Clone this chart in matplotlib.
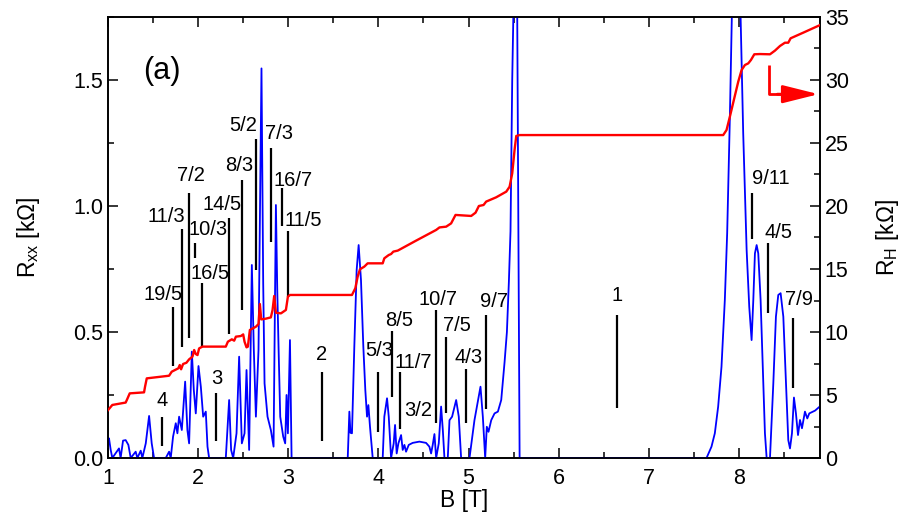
import matplotlib
matplotlib.use('Agg')
import matplotlib.pyplot as plt
from matplotlib.ticker import MultipleLocator

plt.rcParams['font.family'] = ['Liberation Sans', 'DejaVu Sans']
plt.rcParams['mathtext.fontset'] = 'custom'
plt.rcParams['mathtext.rm'] = 'Liberation Sans'

# Rxx (blue)
b_xx = [1.00, 1.011, 1.03, 1.048, 1.122, 1.14, 1.167, 1.196, 1.226, 1.252, 1.307, 1.326,
        1.363, 1.381, 1.419, 1.456, 1.485, 1.511, 1.641, 1.678, 1.696, 1.722, 1.752, 1.770,
        1.789, 1.819, 1.856, 1.881, 1.90, 1.93, 1.952, 1.974, 2.004, 2.03, 2.056, 2.085,
        2.104, 2.122, 2.20, 2.307, 2.344, 2.366, 2.389, 2.426, 2.455, 2.485, 2.515, 2.537,
        2.566, 2.596, 2.618, 2.641, 2.67, 2.703, 2.722, 2.737, 2.77, 2.807, 2.837, 2.863,
        2.878, 2.893, 2.911, 2.944, 2.966, 2.981, 2.996, 3.019, 3.037, 3.40, 3.66, 3.678,
        3.69, 3.707, 3.733, 3.759, 3.781, 3.807, 3.833, 3.855, 3.874, 3.889, 3.907, 3.937,
        4.048, 4.066, 4.096, 4.115, 4.141, 4.170, 4.185, 4.203, 4.222, 4.252, 4.270, 4.289,
        4.307, 4.337, 4.381, 4.455, 4.529, 4.566, 4.585, 4.603, 4.622, 4.641, 4.670, 4.696,
        4.715, 4.733, 4.770, 4.789, 4.818, 4.863, 4.892, 4.918, 5.011, 5.066, 5.133, 5.159,
        5.185, 5.203, 5.222, 5.252, 5.289, 5.326, 5.363, 5.40, 5.426, 5.448, 5.466, 5.485,
        5.50, 5.52, 5.54, 5.555, 5.567, 6.5, 7.456, 7.641, 7.696, 7.733, 7.77, 7.807, 7.844,
        7.87, 7.90, 7.922, 7.95, 7.99, 8.019, 8.048, 8.086, 8.115, 8.141, 8.16, 8.178, 8.197,
        8.215, 8.241, 8.271, 8.289, 8.308, 8.345, 8.382, 8.411, 8.437, 8.463, 8.493, 8.523,
        8.548, 8.567, 8.589, 8.611, 8.633, 8.656, 8.678, 8.70, 8.733, 8.759, 8.781, 8.845,
        8.90]
r_xx = [0.07, 0.078, 0.032, 0.0, 0.038, 0.0, 0.069, 0.071, 0.052, 0.0, 0.025, 0.0,
        0.029, 0.0, 0.058, 0.167, 0.058, 0.0, 0.0, 0.025, 0.0, 0.085, 0.138, 0.098,
        0.164, 0.111, 0.303, 0.111, 0.058, 0.422, 0.270, 0.177, 0.365, 0.283, 0.164, 0.184,
        0.045, 0.0, 0.0, 0.0, 0.230, 0.032, 0.0, 0.098, 0.402, 0.058, 0.098, 0.349,
        0.032, 0.766, 0.429, 0.164, 0.429, 1.546, 0.693, 0.296, 0.164, 0.111, 0.045, 1.004,
        0.667, 0.429, 0.164, 0.085, 0.058, 0.250, 0.098, 0.468, 0.0, 0.0, 0.0, 0.184,
        0.10, 0.098, 0.442, 0.746, 0.845, 0.706, 0.442, 0.270, 0.164, 0.210, 0.124, 0.0,
        0.0, 0.164, 0.237, 0.164, 0.0, 0.058, 0.131, 0.018, 0.058, 0.091, 0.032, 0.052,
        0.025, 0.052, 0.060, 0.065, 0.060, 0.045, 0.018, 0.052, 0.095, 0.0, 0.058, 0.204,
        0.111, 0.0, 0.0, 0.150, 0.164, 0.230, 0.164, 0.0, 0.0, 0.150, 0.283, 0.164,
        0.0, 0.124, 0.104, 0.150, 0.177, 0.184, 0.230, 0.38, 0.50, 0.70, 0.90, 1.50,
        1.80, 2.30, 1.80, 0.80, 0.0, 0.0, 0.0, 0.0, 0.045, 0.098, 0.204, 0.362, 0.627,
        0.892, 1.354, 1.751, 2.30, 2.30, 1.751, 1.288, 0.825, 0.60, 0.468, 0.627, 0.812, 0.845,
        0.812, 0.627, 0.296, 0.098, 0.0, 0.0, 0.296, 0.561, 0.647, 0.654, 0.561, 0.296,
        0.071, 0.038, 0.098, 0.240, 0.177, 0.091, 0.151, 0.118, 0.184, 0.157, 0.177, 0.188,
        0.205]

# RH (red)
b_h = [1.00, 1.048, 1.196, 1.215, 1.241, 1.40, 1.411, 1.43, 1.678, 1.707, 1.781, 1.796,
       1.811, 1.833, 1.87, 1.90, 1.937, 1.956, 1.974, 1.993, 2.011, 2.048, 2.307, 2.33,
       2.374, 2.40, 2.419, 2.474, 2.50, 2.515, 2.537, 2.552, 2.574, 2.641, 2.67, 2.685,
       2.70, 2.752, 2.807, 2.826, 2.844, 2.863, 2.919, 2.974, 2.996, 3.019, 3.707, 3.744,
       3.77, 3.796, 3.844, 3.881, 4.048, 4.066, 4.115, 4.141, 4.166, 4.215, 4.418, 4.641,
       4.678, 4.752, 4.807, 4.856, 5.03, 5.078, 5.115, 5.167, 5.196, 5.307, 5.419, 5.456,
       5.485, 5.511, 5.53, 5.567, 7.826, 7.863, 7.90, 7.944, 7.993, 8.03, 8.067, 8.104,
       8.134, 8.171, 8.234, 8.345, 8.40, 8.456, 8.511, 8.548, 8.574, 8.715, 8.90]
r_h = [3.8, 4.21, 4.4, 4.7, 5.13, 5.21, 5.66, 6.32, 6.53, 6.85, 7.12, 7.38,
       7.04, 7.46, 7.56, 7.83, 8.04, 8.57, 8.25, 8.17, 8.70, 8.84, 8.84, 9.23,
       9.42, 9.31, 9.63, 9.68, 9.81, 9.23, 8.78, 8.84, 10.16, 10.42, 10.63, 12.22,
       11.0, 11.06, 11.16, 11.75, 12.86, 11.53, 11.48, 11.75, 12.8, 12.94, 12.94, 13.47,
       14.39, 14.98, 15.19, 15.45, 15.45, 15.85, 16.11, 16.19, 16.38, 16.46, 17.25, 18.1,
       18.3, 18.36, 18.62, 19.29, 19.21, 19.47, 20.0, 20.08, 20.35, 20.69, 21.14, 21.53,
       22.59, 24.45, 25.56, 25.63, 25.63, 26.03, 27.09, 28.41, 29.87, 30.79, 31.19, 31.32,
       31.59, 32.04, 32.06, 32.04, 32.33, 32.7, 32.96, 32.96, 33.31, 33.76, 34.36]

# filling-factor markers: text, line B, line bottom/top (Rxx), label B, label Rxx
nu_text = ['4', '3', '2', '19/5', '11/3', '7/2', '10/3', '16/5', '14/5', '8/3', '5/2',
           '7/3', '16/7', '11/5', '5/3', '8/5', '11/7', '10/7', '7/5', '4/3', '9/7', '1',
           '9/11', '4/5', '7/9']
nu_b = [1.604, 2.20, 3.37, 1.722, 1.819, 1.90, 1.967, 2.041, 2.344, 2.485, 2.641,
        2.807, 2.93, 3.00, 4.00, 4.148, 4.24, 4.641, 4.752, 4.974, 5.196, 6.644,
        8.149, 8.326, 8.597]
nu_lo = [0.048, 0.069, 0.069, 0.365, 0.442, 0.475, 0.792, 0.442, 0.492, 0.587, 0.746,
         0.858, 0.921, 0.640, 0.102, 0.243, 0.114, 0.140, 0.180, 0.140, 0.193, 0.198,
         0.868, 0.574, 0.277]
nu_hi = [0.161, 0.259, 0.343, 0.598, 0.907, 1.053, 0.852, 0.693, 0.951, 1.103, 1.265,
         1.231, 1.070, 0.902, 0.343, 0.504, 0.343, 0.587, 0.479, 0.352, 0.567, 0.567,
         1.053, 0.854, 0.554]
lab_b = [1.604, 2.204, 3.374, 1.611, 1.652, 1.919, 2.115, 2.13, 2.267, 2.459, 2.50,
         2.896, 3.052, 3.167, 4.011, 4.233, 4.392, 4.659, 4.87, 4.996, 5.278, 6.644,
         8.356, 8.441, 8.667]
lab_r = [0.227, 0.316, 0.409, 0.647, 0.958, 1.123, 0.905, 0.733, 1.004, 1.160, 1.321,
         1.288, 1.103, 0.944, 0.426, 0.545, 0.380, 0.627, 0.525, 0.399, 0.620, 0.643,
         1.111, 0.893, 0.627]
extra_text = ['3/2']
extra_b = [4.444]
extra_r = [0.19]

fig = plt.figure(figsize=(9.07, 5.24), dpi=100)
ax = fig.add_axes([108 / 907, 66 / 524, 712 / 907, 441 / 524])
ax2 = ax.twinx()

ax.plot(b_xx, r_xx, color='#0000ff', lw=1.3, zorder=3)
ax2.plot(b_h, r_h, color='#ff0000', lw=1.7, zorder=3)

ax.vlines(nu_b, nu_lo, nu_hi, color='black', lw=1.6, zorder=2)
for t, x, y in zip(nu_text, lab_b, lab_r):
    ax.text(x, y, t, ha='center', va='center', fontsize=14.5)
for t, x, y in zip(extra_text, extra_b, extra_r):
    ax.text(x, y, t, ha='center', va='center', fontsize=14.5)

ax.text(0.075, 0.878, '(a)', transform=ax.transAxes, ha='center', va='center', fontsize=22)

# red L-shaped arrow pointing to the right axis
ax2.plot([0.929, 0.929, 0.95], [0.891, 0.825, 0.825], transform=ax2.transAxes,
         color='#ff0000', lw=2, solid_capstyle='butt', clip_on=False)
ax2.annotate('', xy=(0.998, 0.825), xycoords='axes fraction',
             xytext=(0.94, 0.825), textcoords='axes fraction',
             arrowprops=dict(arrowstyle='-|>,head_length=2.2,head_width=0.55',
                             mutation_scale=10, color='#ff0000', lw=2,
                             shrinkA=0, shrinkB=0))

ax.set_xlim(1, 8.9)
ax.set_ylim(0, 1.75)
ax2.set_ylim(0, 35)

ax.xaxis.set_major_locator(MultipleLocator(1))
ax.xaxis.set_minor_locator(MultipleLocator(0.5))
ax.yaxis.set_major_locator(MultipleLocator(0.5))
ax.yaxis.set_minor_locator(MultipleLocator(0.25))
ax.yaxis.set_major_formatter(matplotlib.ticker.FormatStrFormatter('%.1f'))
ax2.yaxis.set_major_locator(MultipleLocator(5))
ax2.yaxis.set_minor_locator(MultipleLocator(2.5))

ax.tick_params(which='both', direction='in', top=True, right=False, labelsize=15.5, width=1.1)
ax.tick_params(which='major', length=7)
ax.tick_params(which='minor', length=4)
ax2.tick_params(which='both', direction='in', labelsize=15.5, width=1.1)
ax2.tick_params(which='major', length=7)
ax2.tick_params(which='minor', length=4)
ax.tick_params(axis='x', pad=7)

for a in (ax, ax2):
    for s in a.spines.values():
        s.set_linewidth(1.2)

ax.set_xlabel('B [T]', fontsize=16.5, labelpad=0)
ax.set_ylabel(r'R$_{\mathrm{xx}}$ [kΩ]', fontsize=16.5, labelpad=22)
ax2.set_ylabel(r'R$_{\mathrm{H}}$ [kΩ]', fontsize=16.5, labelpad=18)

fig.savefig('out.png', dpi=100)
